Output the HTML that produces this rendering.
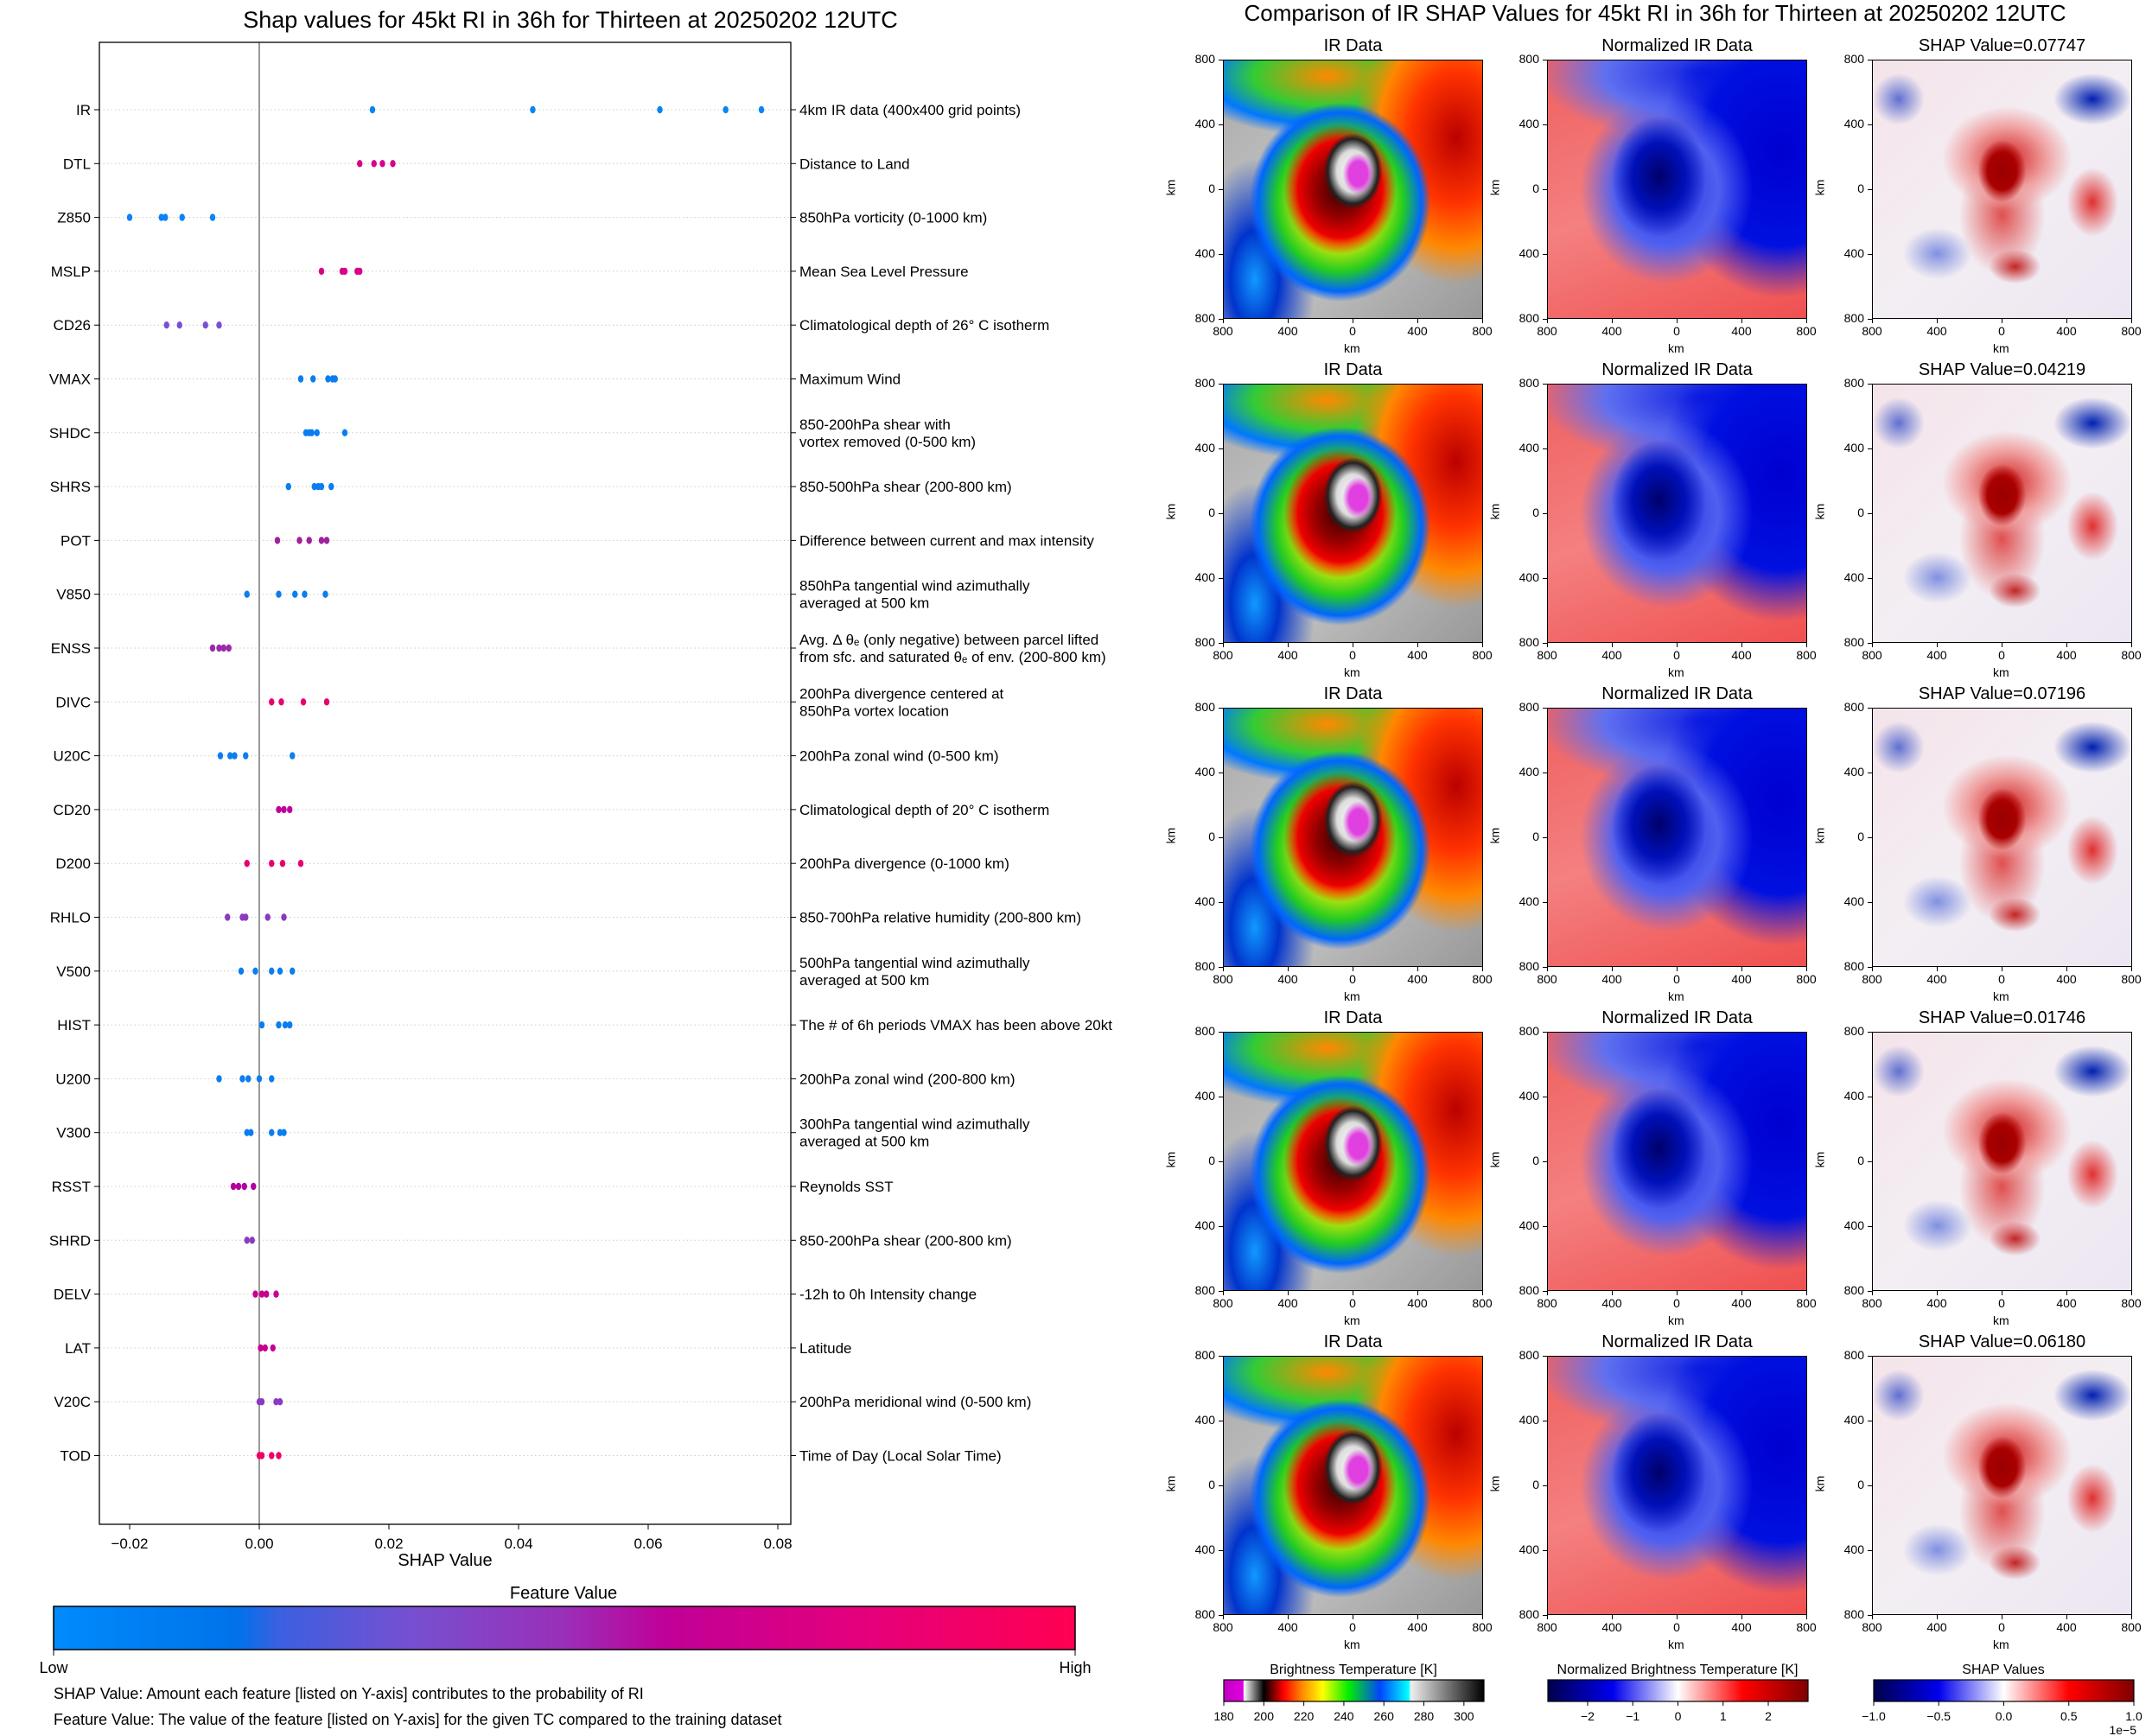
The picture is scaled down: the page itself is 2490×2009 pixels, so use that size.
<!DOCTYPE html>
<html><head><meta charset="utf-8">
<style>
body{margin:0;width:2490px;height:2009px;background:#fff;position:relative;overflow:hidden;font-family:"Liberation Sans","DejaVu Sans",sans-serif;color:#000}
.abs{position:absolute}
.img{position:absolute;width:301px;height:300px;overflow:hidden;border:1.5px solid #000;box-sizing:border-box}
.ir{background:
 radial-gradient(ellipse 18px 24px at 52% 44%, #e040e0 0%, #e040e0 60%, transparent 100%),
 radial-gradient(ellipse 34px 44px at 50% 43%, #fff 0%, #ddd 55%, #222 85%, transparent 100%),
 radial-gradient(ellipse 65px 75px at 45% 50%, #300 0%, #900 45%, #e00 75%, transparent 100%),
 radial-gradient(ellipse 105px 115px at 45% 55%, #f60 0%, #ee0 40%, #2c2 70%, #06f 90%, transparent 100%),
 radial-gradient(ellipse 120px 170px at 90% 30%, #b00 0%, #f30 45%, #f80 75%, transparent 100%),
 radial-gradient(ellipse 170px 70px at 40% 6%, #f80 0%, #3c3 50%, #07f 80%, transparent 100%),
 radial-gradient(ellipse 70px 140px at 12% 85%, #19f 0%, #03c 40%, transparent 100%),
 linear-gradient(135deg,#aaa,#c8c8c8 50%,#999)}
.nr{background:
 radial-gradient(ellipse 55px 70px at 43% 45%, #00006a 0%, #0010b8 55%, transparent 100%),
 radial-gradient(ellipse 100px 110px at 46% 50%, #2030e0 0%, #5060f0 60%, transparent 100%),
 radial-gradient(ellipse 140px 170px at 90% 35%, #0000d0 0%, #0010e0 65%, transparent 100%),
 radial-gradient(ellipse 190px 80px at 60% 5%, #1020e0 0%, #6070f0 60%, transparent 100%),
 linear-gradient(160deg,#f06060,#f48080 50%,#f05050)}
.sh{background:
 radial-gradient(ellipse 28px 36px at 50% 43%, #900 0%, #a00 60%, transparent 100%),
 radial-gradient(ellipse 75px 60px at 52% 38%, #d02020 0%, #f0a0a0 60%, transparent 100%),
 radial-gradient(ellipse 50px 70px at 50% 60%, #e05050 0%, transparent 100%),
 radial-gradient(ellipse 45px 30px at 85% 15%, #0020b0 0%, transparent 100%),
 radial-gradient(ellipse 30px 40px at 85% 55%, #e03030 0%, transparent 100%),
 radial-gradient(ellipse 30px 20px at 55% 80%, #c02020 0%, transparent 100%),
 radial-gradient(ellipse 40px 30px at 25% 75%, #8090e0 0%, transparent 100%),
 radial-gradient(ellipse 30px 30px at 10% 15%, #6070d0 0%, transparent 100%),
 linear-gradient(135deg,#f4e4ea,#f3eef3 50%,#ece6f2)}
.t{position:absolute;white-space:nowrap}
</style></head><body>
<div class="t" style="left:0;width:1320px;text-align:center;top:8px;font-size:27px">Shap values for 45kt RI in 36h for Thirteen at 20250202 12UTC</div>
<div class="t" style="left:1340px;width:1150px;text-align:center;top:0px;font-size:26px">Comparison of IR SHAP Values for 45kt RI in 36h for Thirteen at 20250202 12UTC</div>

<svg id="chart" class="abs" style="left:0;top:0" width="1340" height="2009">
<defs><linearGradient id="fv" x1="0" x2="1" y1="0" y2="0">
<stop offset="0" stop-color="#008bfb"/><stop offset="0.18" stop-color="#0072ea"/><stop offset="0.22" stop-color="#3a60e0"/><stop offset="0.35" stop-color="#7650d0"/><stop offset="0.5" stop-color="#9a2fb8"/><stop offset="0.6" stop-color="#c00098"/><stop offset="0.8" stop-color="#e6007a"/><stop offset="1" stop-color="#ff0052"/></linearGradient></defs>
<g id="plot"></g>
<rect x="62" y="1859" width="1182" height="50" fill="url(#fv)" stroke="#000" stroke-width="1.5"/>
<line x1="62" y1="1909" x2="62" y2="1916" stroke="#000"/><line x1="1244" y1="1909" x2="1244" y2="1916" stroke="#000"/>
<text x="652" y="1860" font-size="20" text-anchor="middle" dy="-10">Feature Value</text>
<text x="62" y="1936" font-size="18" text-anchor="middle">Low</text>
<text x="1244" y="1936" font-size="18" text-anchor="middle">High</text>
<text x="62" y="1966" font-size="18">SHAP Value: Amount each feature [listed on Y-axis] contributes to the probability of RI</text>
<text x="62" y="1996" font-size="18">Feature Value: The value of the feature [listed on Y-axis] for the given TC compared to the training dataset</text>
</svg>

<div id="panels"></div>
<svg id="cbars" class="abs" style="left:1380px;top:1900px" width="1110" height="109">
<defs>
<linearGradient id="irg"><stop offset="0" stop-color="#c000c0"/><stop offset="0.075" stop-color="#e000e0"/><stop offset="0.077" stop-color="#fff"/><stop offset="0.154" stop-color="#000"/><stop offset="0.2" stop-color="#900"/><stop offset="0.23" stop-color="#f00"/><stop offset="0.3" stop-color="#f80"/><stop offset="0.38" stop-color="#ff0"/><stop offset="0.48" stop-color="#0e0"/><stop offset="0.6" stop-color="#04f"/><stop offset="0.71" stop-color="#0ff"/><stop offset="0.72" stop-color="#eee"/><stop offset="1" stop-color="#000"/></linearGradient>
<linearGradient id="sw"><stop offset="0" stop-color="#00004c"/><stop offset="0.25" stop-color="#0000ee"/><stop offset="0.5" stop-color="#fff"/><stop offset="0.75" stop-color="#f00"/><stop offset="1" stop-color="#800000"/></linearGradient>
</defs>
<g id="cbg"></g>
</svg>

<script>
const NS="http://www.w3.org/2000/svg";
function mk(p,tag,a,txt){const e=document.createElementNS(NS,tag);for(const k in a)e.setAttribute(k,a[k]);if(txt!==undefined)e.textContent=txt;p.appendChild(e);return e;}

// ---- data ----
const features=["IR","DTL","Z850","MSLP","CD26","VMAX","SHDC","SHRS","POT","V850","ENSS","DIVC","U20C","CD20","D200","RHLO","V500","HIST","U200","V300","RSST","SHRD","DELV","LAT","V20C","TOD"];
const descriptions=[["4km IR data (400x400 grid points)"],["Distance to Land"],["850hPa vorticity (0-1000 km)"],["Mean Sea Level Pressure"],["Climatological depth of 26° C isotherm"],["Maximum Wind"],["850-200hPa shear with","vortex removed (0-500 km)"],["850-500hPa shear (200-800 km)"],["Difference between current and max intensity"],["850hPa tangential wind azimuthally","averaged at 500 km"],["Avg. Δ θₑ (only negative) between parcel lifted","from sfc. and saturated θₑ of env. (200-800 km)"],["200hPa divergence centered at","850hPa vortex location"],["200hPa zonal wind (0-500 km)"],["Climatological depth of 20° C isotherm"],["200hPa divergence (0-1000 km)"],["850-700hPa relative humidity (200-800 km)"],["500hPa tangential wind azimuthally","averaged at 500 km"],["The # of 6h periods VMAX has been above 20kt"],["200hPa zonal wind (200-800 km)"],["300hPa tangential wind azimuthally","averaged at 500 km"],["Reynolds SST"],["850-200hPa shear (200-800 km)"],["-12h to 0h Intensity change"],["Latitude"],["200hPa meridional wind (0-500 km)"],["Time of Day (Local Solar Time)"]];
const shapValues=[
[0.01746,0.04219,0.06180,0.07196,0.07747],
[0.0155,0.0177,0.0190,0.0206],
[-0.0200,-0.0151,-0.0145,-0.0119,-0.0072],
[0.0096,0.0128,0.0132,0.0151,0.0155],
[-0.0143,-0.0123,-0.0083,-0.0062],
[0.0064,0.0083,0.0106,0.0113,0.0117],
[0.0072,0.0077,0.0081,0.0089,0.0132],
[0.0045,0.0085,0.0091,0.0096,0.0111],
[0.0028,0.0062,0.0077,0.0096,0.0104],
[-0.0019,0.0030,0.0055,0.0070,0.0102],
[-0.0072,-0.0062,-0.0055,-0.0047],
[0.0019,0.0034,0.0068,0.0104],
[-0.0060,-0.0045,-0.0038,-0.0021,0.0051],
[0.0030,0.0038,0.0047],
[-0.0019,0.0019,0.0036,0.0064],
[-0.0049,-0.0026,-0.0021,0.0013,0.0038],
[-0.0028,-0.0006,0.0019,0.0032,0.0051],
[0.0004,0.0030,0.0040,0.0047],
[-0.0062,-0.0026,-0.0017,0.0000,0.0019],
[-0.0019,-0.0013,0.0019,0.0032,0.0038],
[-0.0040,-0.0032,-0.0023,-0.0009],
[-0.0019,-0.0011],
[-0.0006,0.0004,0.0011,0.0026],
[0.0002,0.0009,0.0021],
[0.0000,0.0004,0.0026,0.0032],
[0.0000,0.0004,0.0019,0.0030]];
const featureColors=["#0a84f5","#d8008c","#0a84f5","#d8008c","#7a4fd6","#0a7ef0","#0a7ef0","#0a7ef0","#a0209e","#0a7ef0","#9a2aaa","#e8006e","#0a7ef0","#c0009a","#e8006e","#8a3ac0","#0a7ef0","#0a7ef0","#0a7ef0","#0a7ef0","#b0009f","#8a3ac0","#c8008e","#c8008e","#8a3ac0","#ee0066"];
const xTicks=[-0.02,0,0.02,0.04,0.06,0.08];
const xTickLabels=["−0.02","0.00","0.02","0.04","0.06","0.08"];

// ---- axes ----
const AX={l:115,r:915,t:49,b:1764};
const xs=v=>300+v*7500;
const ys=i=>127+i*62.3;
const g=document.getElementById('plot');
features.forEach((f,i)=>{
  const y=ys(i);
  let gl=mk(g,'line',{x1:AX.l,x2:AX.r,y1:y,y2:y,stroke:'#ccc','stroke-width':1,'stroke-dasharray':'1.5,3'});
  
  
});
let zl=mk(g,'line',{x1:xs(0),x2:xs(0),y1:AX.t,y2:AX.b,stroke:'#999','stroke-width':2});


let fr=mk(g,'rect',{x:AX.l,y:AX.t,width:AX.r-AX.l,height:AX.b-AX.t,fill:'none',stroke:'#000','stroke-width':1.3});


features.forEach((f,i)=>{
  const y=ys(i);
  mk(g,'line',{x1:AX.l-6,x2:AX.l,y1:y,y2:y,stroke:'#000'});
  mk(g,'line',{x1:AX.r,x2:AX.r+6,y1:y,y2:y,stroke:'#000'});
  let t=mk(g,'text',{x:AX.l-10,y:y+6,'font-size':17,'text-anchor':'end'},f);
  
  
  const d=descriptions[i];
  d.forEach((line,k)=>{
    const yy=y+6+(d.length===2?(k===0?-10:10):0);
    let tt=mk(g,'text',{x:AX.r+10,y:yy,'font-size':17},line);
    
    
  });
  shapValues[i].forEach(v=>{
    let c=mk(g,'ellipse',{cx:xs(v),cy:y,rx:3.2,ry:4.2,fill:featureColors[i]});
    
    
  });
});
xTicks.forEach((v,k)=>{
  mk(g,'line',{x1:xs(v),x2:xs(v),y1:AX.b,y2:AX.b+6,stroke:'#000'});
  let t=mk(g,'text',{x:xs(v),y:AX.b+28,'font-size':17,'text-anchor':'middle'},xTickLabels[k]);
  
  
});
let xl=mk(g,'text',{x:515,y:1812,'font-size':20,'text-anchor':'middle'},'SHAP Value');



// ---- image panels ----
const colX=[1415,1790,2166];
const rowY=[69,444,819,1194,1569];
const shapTitles=["SHAP Value=0.07747","SHAP Value=0.04219","SHAP Value=0.07196","SHAP Value=0.01746","SHAP Value=0.06180"];
const kmTicks=["800","400","0","400","800"];
const P=document.getElementById('panels');
rowY.forEach((y,r)=>{
  colX.forEach((x,c)=>{
    const d=document.createElement('div');
    d.className='img '+['ir','nr','sh'][c];
    d.style.left=x+'px';d.style.top=y+'px';
    
    
    P.appendChild(d);
    const t=document.createElement('div');
    t.className='t';t.style.left=(x-50)+'px';t.style.width='401px';t.style.textAlign='center';t.style.top=(y-27)+'px';t.style.fontSize='20px';
    t.textContent=c===0?'IR Data':c===1?'Normalized IR Data':shapTitles[r];
    
    
    P.appendChild(t);
    kmTicks.forEach((lab,k)=>{
      const a=document.createElement('div');a.className='t';a.style.fontSize='14px';
      a.style.left=(x-45)+'px';a.style.width='36px';a.style.textAlign='right';a.style.top=(y+k*75-9)+'px';a.textContent=lab;
      
      
      P.appendChild(a);
      const b=document.createElement('div');b.className='t';b.style.fontSize='14px';
      b.style.left=(x+k*75-20)+'px';b.style.width='40px';b.style.textAlign='center';b.style.top=(y+306)+'px';b.textContent=lab;
      
      
      P.appendChild(b);
      const tk=document.createElement('div');tk.className='abs';tk.style.cssText=`left:${x-5}px;top:${y+k*75}px;width:5px;height:1px;background:#000`;P.appendChild(tk);
      const tk2=document.createElement('div');tk2.className='abs';tk2.style.cssText=`left:${x+k*75}px;top:${y+300}px;width:1px;height:5px;background:#000`;P.appendChild(tk2);
    });
    const kx=document.createElement('div');kx.className='t';kx.style.fontSize='14px';kx.style.left=(x+140)+'px';kx.style.top=(y+326)+'px';kx.textContent='km';
    
    
    P.appendChild(kx);
    const ky=document.createElement('div');ky.className='t';ky.style.fontSize='14px';ky.style.left=(x-70)+'px';ky.style.top=(y+140)+'px';ky.style.transform='rotate(-90deg)';ky.textContent='km';
    
    
    P.appendChild(ky);
  });
});

// ---- bottom colorbars ----
const cb=document.getElementById('cbg');
const cbX=[36,411,788];
const cbTitles=["Brightness Temperature [K]","Normalized Brightness Temperature [K]","SHAP Values"];
const cbFills=["url(#irg)","url(#sw)","url(#sw)"];
const irTicks=[180,200,220,240,260,280,300];
const normTicks=[-2,-1,0,1,2];
const shapTicks=[-1.0,-0.5,0.0,0.5,1.0];
const tickSets=[
  {ticks:irTicks,min:180,max:310,fmt:v=>String(v)},
  {ticks:normTicks,min:-2.88,max:2.88,fmt:v=>v<0?'−'+(-v):String(v)},
  {ticks:shapTicks,min:-1,max:1,fmt:v=>v<0?'−'+(-v).toFixed(1):v.toFixed(1)}];
cbX.forEach((x,i)=>{
  let r=mk(cb,'rect',{x:x,y:44,width:301,height:25,fill:cbFills[i],stroke:'#000','stroke-width':1.2});
  
  
  let t=mk(cb,'text',{x:x+150,y:37,'font-size':16,'text-anchor':'middle'},cbTitles[i]);
  
  
  const s=tickSets[i];
  s.ticks.forEach(v=>{
    const px=x+(v-s.min)/(s.max-s.min)*301;
    mk(cb,'line',{x1:px,x2:px,y1:69,y2:74,stroke:'#000'});
    let tl=mk(cb,'text',{x:px,y:91,'font-size':14,'text-anchor':'middle'},s.fmt(v));
    
    
  });
});
let ex=mk(cb,'text',{x:1092,y:107,'font-size':14,'text-anchor':'end'},'1e−5');


</script>
</body></html>
